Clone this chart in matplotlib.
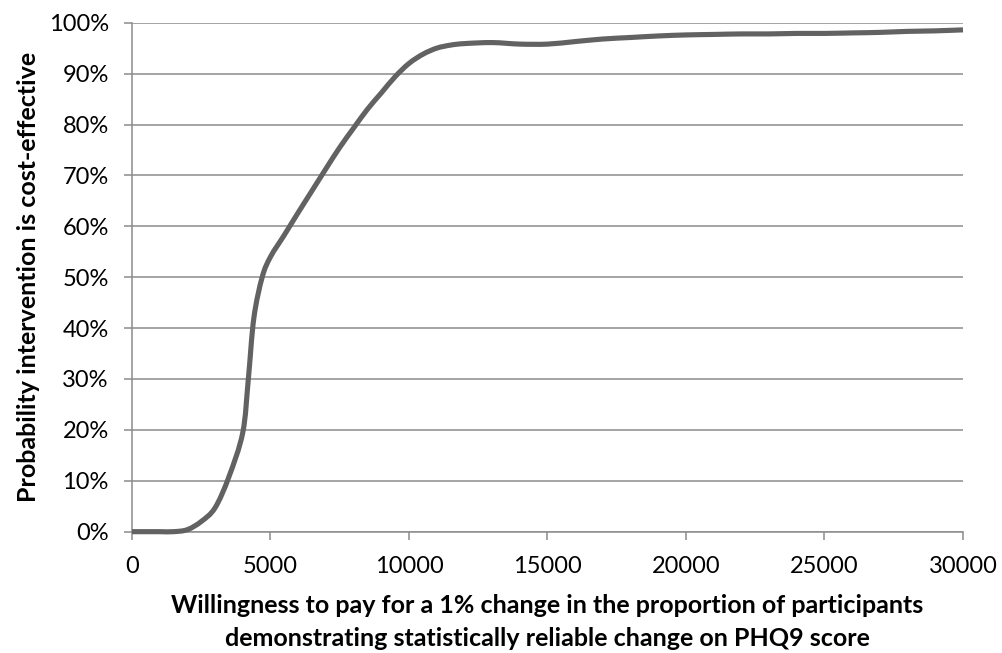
import matplotlib
matplotlib.use('Agg')
import matplotlib.pyplot as plt
from matplotlib.path import Path
import matplotlib.patches as patches
from matplotlib.ticker import FuncFormatter

# willingness to pay vs probability cost-effective
wtp = [0, 500, 1000, 1500, 2000, 2500, 3000, 3500, 4000, 4200, 4400, 4700,
       5000, 5500, 6000, 6500, 7000, 7500, 8000, 8500, 9000, 9500, 10000,
       10500, 11000, 11500, 12000, 13000, 14000, 15000, 16000, 17000, 18000,
       19000, 20000, 21000, 22000, 23000, 24000, 25000, 26000, 27000, 28000,
       29000, 30000]
prob = [0.0, 0.0, 0.0, 0.0, 0.4, 2.0, 4.7, 10.8, 19.5, 30.0, 42.0, 50.0,
        54.0, 58.3, 62.7, 67.0, 71.3, 75.5, 79.3, 83.0, 86.2, 89.4, 92.0,
        93.8, 95.0, 95.6, 95.9, 96.1, 95.8, 95.8, 96.3, 96.8, 97.1,
        97.4, 97.6, 97.7, 97.8, 97.8, 97.9, 97.9, 98.0, 98.1, 98.3,
        98.4, 98.6]
xticks = [0, 5000, 10000, 15000, 20000, 25000, 30000]
yticks = [0, 10, 20, 30, 40, 50, 60, 70, 80, 90, 100]

plt.rcParams['font.family'] = ['Lato', 'DejaVu Sans']
grid_c = '#8c8c8c'

fig = plt.figure(figsize=(10.03, 6.53), dpi=100)
ax = fig.add_axes([0.1316, 0.1858, 0.8285, 0.7794])

for y in yticks:
    ax.axhline(y, color=grid_c, lw=1.1, zorder=1)

# smoothed line like the spreadsheet one: bezier segments through the points
pts = list(zip(wtp, prob))
verts = [pts[0]]
codes = [Path.MOVETO]
n = len(pts)
for i in range(n - 1):
    p0 = pts[max(i - 1, 0)]
    p1 = pts[i]
    p2 = pts[i + 1]
    p3 = pts[min(i + 2, n - 1)]
    c1 = (p1[0] + (p2[0] - p0[0]) / 6.0, p1[1] + (p2[1] - p0[1]) / 6.0)
    c2 = (p2[0] - (p3[0] - p1[0]) / 6.0, p2[1] - (p3[1] - p1[1]) / 6.0)
    verts += [c1, c2, p2]
    codes += [Path.CURVE4] * 3
curve = patches.PathPatch(Path(verts, codes), facecolor='none',
                          edgecolor='#626262', lw=3.7, joinstyle='round',
                          capstyle='butt', zorder=3, clip_on=False)
ax.add_patch(curve)

ax.set_xlim(0, 30000)
ax.set_ylim(0, 100)
ax.set_xticks(xticks)
ax.set_yticks(yticks)
ax.yaxis.set_major_formatter(FuncFormatter(lambda v, p: '%d%%' % v))
ax.xaxis.set_major_formatter(FuncFormatter(lambda v, p: '%d' % v))

for s in ['top', 'right']:
    ax.spines[s].set_visible(False)
for s in ['left', 'bottom']:
    ax.spines[s].set_color(grid_c)
    ax.spines[s].set_linewidth(1.1)

ax.tick_params(axis='both', direction='out', length=5.8, width=1.1,
               color=grid_c, labelsize=17, labelcolor='black')
ax.tick_params(axis='y', pad=11)
ax.tick_params(axis='x', pad=12)

ax.set_ylabel('Probability intervention is cost-effective', fontsize=18,
              fontweight='bold', labelpad=6)
ax.set_xlabel('Willingness to pay for a 1% change in the proportion of participants\n'
              'demonstrating statistically reliable change on PHQ9 score',
              fontsize=18, fontweight='bold', labelpad=12, linespacing=1.5)

plt.savefig('out.png', dpi=100)
